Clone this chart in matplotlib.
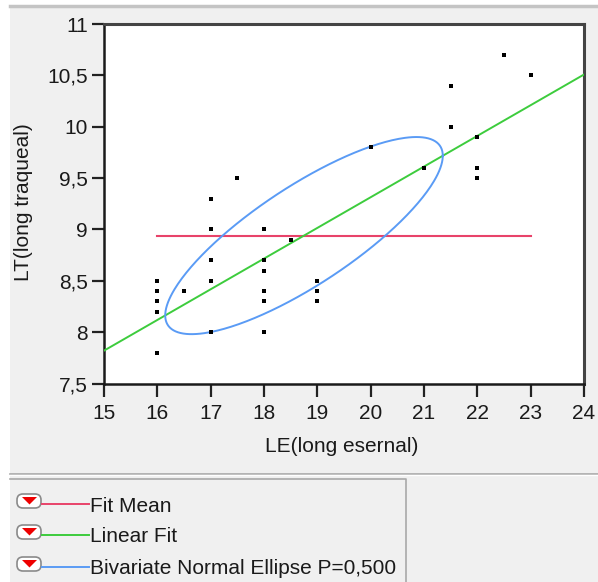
import numpy as np
import matplotlib
matplotlib.use("Agg")
import matplotlib.pyplot as plt
from matplotlib.patches import Rectangle, FancyBboxPatch, Polygon
from matplotlib.lines import Line2D

# ---- data ----
le = [16, 16, 16, 16, 16, 16.5, 17, 17, 17, 17, 17, 17.5,
      18, 18, 18, 18, 18, 18, 18.5, 19, 19, 19, 20, 21,
      21.5, 21.5, 22, 22, 22, 22.5, 23]
lt = [8.5, 8.4, 8.3, 8.2, 7.8, 8.4, 9.3, 9.0, 8.7, 8.5, 8.0, 9.5,
      9.0, 8.7, 8.6, 8.4, 8.3, 8.0, 8.9, 8.5, 8.4, 8.3, 9.8, 9.6,
      10.4, 10.0, 9.9, 9.6, 9.5, 10.7, 10.5]

# summary statistics
mean_le = 18.75
mean_lt = 8.94
sd_le = 2.21
sd_lt = 0.815
corr = 0.81
ellipse_p = 0.5

x_ticks = [15, 16, 17, 18, 19, 20, 21, 22, 23, 24]
y_ticks = [7.5, 8, 8.5, 9, 9.5, 10, 10.5, 11]
y_tick_labels = ["7,5", "8", "8,5", "9", "9,5", "10", "10,5", "11"]

legend_labels = ["Fit Mean", "Linear Fit", "Bivariate Normal Ellipse P=0,500"]
c_mean = "#E8436A"
c_lin = "#3DCC3D"
c_ell = "#5A9BF5"
legend_colors = [c_mean, c_lin, c_ell]

W, H = 598, 582
fig = plt.figure(figsize=(W / 100, H / 100), dpi=100)
fig.patch.set_facecolor("white")
font = "Liberation Sans"
fs = 15

def fx(px):
    return px / W

def fy(py):
    return 1 - py / H

# panel background
fig.patches.append(Rectangle((fx(10), 0), 1 - fx(10), fy(6), transform=fig.transFigure,
                             facecolor="#F0F0F0", edgecolor="none", zorder=-10))
fig.lines.append(Line2D([fx(10), 1], [fy(5.5), fy(5.5)], transform=fig.transFigure,
                        color="#C4C4C4", lw=2.5, zorder=-5))
# separator above the legend
fig.lines.append(Line2D([fx(10), 1], [fy(473.5), fy(473.5)], transform=fig.transFigure,
                        color="#A8A8A8", lw=1.2))
fig.lines.append(Line2D([fx(10), 1], [fy(475), fy(475)], transform=fig.transFigure,
                        color="#FFFFFF", lw=1.0))
# legend box
fig.lines.append(Line2D([fx(10), fx(406), fx(406)], [fy(478.5), fy(478.5), 0],
                        transform=fig.transFigure, color="#A8A8A8", lw=1.2))

ax = fig.add_axes([fx(104), fy(383.5), fx(584) - fx(104), fy(24) - fy(383.5)])
ax.set_facecolor("white")

ax.plot(le, lt, "s", color="black", markersize=3, markeredgewidth=0, zorder=5)

# fit mean
ax.plot([min(le), max(le)], [mean_lt, mean_lt], color=c_mean, lw=1.5, zorder=3)

# linear fit
slope = corr * sd_lt / sd_le
intercept = mean_lt - slope * mean_le
xs = np.array([15, 24])
ax.plot(xs, intercept + slope * xs, color=c_lin, lw=1.4, zorder=3)

# bivariate normal ellipse
cov = np.array([[sd_le ** 2, corr * sd_le * sd_lt], [corr * sd_le * sd_lt, sd_lt ** 2]])
L = np.linalg.cholesky(cov)
c = np.sqrt(-2 * np.log(1 - ellipse_p))
t = np.linspace(0, 2 * np.pi, 300)
pts = c * (L @ np.vstack([np.cos(t), np.sin(t)]))
ax.plot(mean_le + pts[0], mean_lt + pts[1], color=c_ell, lw=1.4, zorder=4)

ax.set_xlim(15, 24)
ax.set_ylim(7.5, 11)
ax.set_xticks(x_ticks)
ax.set_xticklabels([str(v) for v in x_ticks], fontname=font, fontsize=fs)
ax.set_yticks(y_ticks)
ax.set_yticklabels(y_tick_labels, fontname=font, fontsize=fs)
ax.tick_params(direction="out", length=9, width=1.6, color="#222222", pad=2.5,
               labelcolor="#1a1a1a")
ax.tick_params(axis="x", pad=5.5)
for s in ["left", "bottom"]:
    ax.spines[s].set_color("#1a1a1a")
    ax.spines[s].set_linewidth(1.8)
for s in ["top", "right"]:
    ax.spines[s].set_color("#444444")
    ax.spines[s].set_linewidth(2.2)

fig.text(fx(341.5), fy(446), "LE(long esernal)", ha="center", va="center",
         fontname=font, fontsize=fs, color="#1a1a1a")
fig.text(fx(24), fy(202.5), "LT(long traqueal)", ha="center", va="center", rotation=90,
         fontname=font, fontsize=fs, color="#1a1a1a")

# legend rows
row_y = [504, 535, 567]
for yy, lab, col in zip(row_y, legend_labels, legend_colors):
    fig.patches.append(FancyBboxPatch((fx(17), fy(yy + 4)), fx(24), fy(0) - fy(14),
                                      boxstyle="round,pad=0,rounding_size=0.01",
                                      transform=fig.transFigure, facecolor="white",
                                      edgecolor="#8a8a8a", lw=1.2))
    tri = [(fx(22), fy(yy - 7)), (fx(37), fy(yy - 7)), (fx(29.5), fy(yy + 0.5))]
    fig.patches.append(Polygon(tri, closed=True, transform=fig.transFigure,
                               facecolor="#EE0000", edgecolor="none"))
    fig.lines.append(Line2D([fx(42), fx(89)], [fy(yy), fy(yy)],
                            transform=fig.transFigure, color=col, lw=1.4))
    fig.text(fx(89.5), fy(yy + 2), lab, ha="left", va="center", fontname=font,
             fontsize=fs, color="#1a1a1a")

fig.savefig("out.png", dpi=100, facecolor=fig.get_facecolor())
